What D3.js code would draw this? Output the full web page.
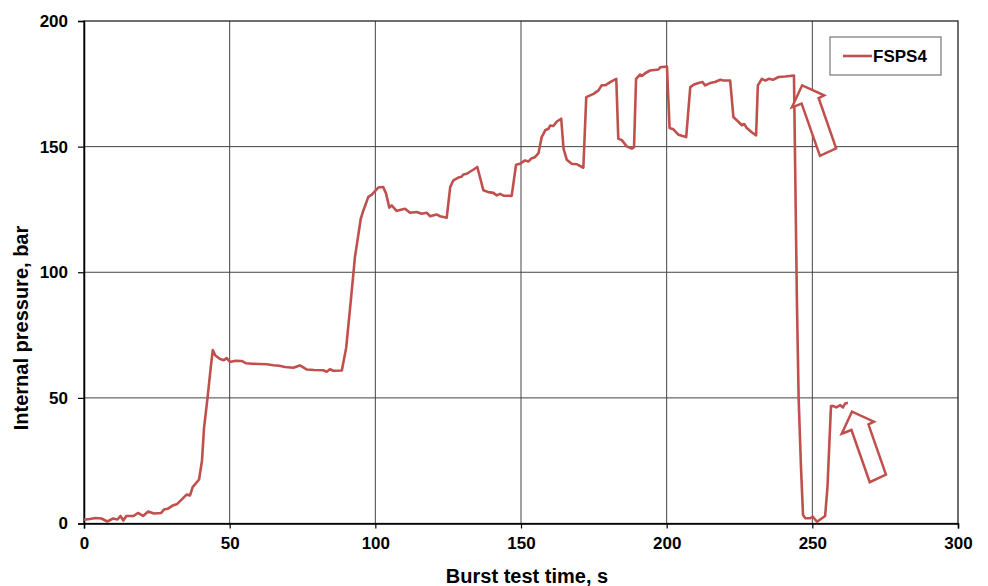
<html>
<head>
<script src="https://cdn.jsdelivr.net/npm/d3@7"></script>
<style>
  body { margin: 0; background: #fff; }
  text { font-family: "Liberation Sans", Arial, sans-serif; font-weight: bold; fill: #000; }
</style>
</head>
<body>
<svg width="988" height="586"></svg>
<script>
// burst test record, FSPS4
var time = [0, 2, 4, 6, 8, 10, 11.5, 12.5, 13.5, 14.5, 17, 18.5, 20.3, 22, 24, 26.5, 27.5, 29, 30.5, 32,
  33.5, 35.2, 36.4, 37.3, 39.5, 40.5, 41.2, 42.4, 43.5, 44.2, 45, 46.7, 48, 49, 50.1, 52, 54.1, 55.5, 57.6, 60,
  62.7, 65, 67, 69, 71.8, 74.1, 76.4, 79, 82.1, 83.3, 84.4, 85.6, 88.5, 90, 91.6, 93, 95, 95.9, 97.6, 98.8,
  101, 102.7, 103.7, 104.8, 105.6, 107.3, 108.4, 110.2, 111.9, 114.2, 115.9, 117.6, 118.8, 121, 122.2, 124.5, 125.7, 126.8, 128.5, 129.6,
  130.2, 131.4, 133.6, 135, 137.1, 138.8, 140.5, 141.7, 142.8, 144, 146.8, 148.3, 149.7, 151.4, 152.6, 153.7, 154.8, 156, 157.1, 158.3,
  159.4, 160, 161.1, 162.3, 163.8, 164.6, 165.7, 167.4, 169.1, 171.4, 172.4, 174.9, 176.6, 177.7, 178.9, 180.6, 182.7, 183.4, 184.6, 186.3,
  188, 188.8, 189.5, 190.9, 191.5, 192.6, 194.3, 197.2, 197.8, 200.1, 201, 202.3, 204.1, 205.2, 206.7, 208.1, 209.2, 210.9, 212.3, 213.2,
  214.9, 216.6, 218.4, 219.5, 221.8, 222.9, 224.7, 225.8, 226.6, 227.5, 229.2, 230.7, 231.3, 232.7, 233.9, 235, 236.5, 238.4, 240.7, 243.7,
  244.7, 245.3, 246.1, 246.8, 247.6, 249.3, 250.2, 251.6, 253.3, 254.4, 255.2, 256.4, 257.3, 258.2, 259.6, 260.5, 261.3, 262.2];
var pressure = [1.5, 1.8, 2.2, 2.0, 0.8, 2.0, 1.6, 3.0, 1.2, 3.0, 3.0, 4.2, 3.0, 4.8, 4.0, 4.2, 5.6, 6.0, 7.2, 7.8,
  9.5, 11.5, 11.2, 14.5, 17.5, 25, 38, 50, 62, 69, 67, 65.5, 65, 65.8, 64.3, 64.8, 64.7, 63.8, 63.6, 63.5,
  63.4, 63, 62.8, 62.3, 62, 62.9, 61.3, 61.1, 61, 60.4, 61.4, 60.8, 60.9, 70, 88.9, 106, 121.3, 124.6, 130, 130.9,
  133.7, 133.9, 131.3, 125.7, 126.6, 124.4, 124.8, 125.3, 123.7, 124, 123.3, 123.7, 122.3, 123, 122.3, 121.7, 133.9, 136.6, 137.7, 138,
  138.9, 139.2, 140.8, 141.9, 132.6, 131.9, 131.6, 130.6, 131.2, 130.5, 130.4, 142.8, 143.2, 144.5, 144.1, 145.4, 145.8, 147.4, 153.8, 156.5,
  157.1, 158.4, 158.2, 160, 161.1, 149.2, 144.8, 143.2, 143, 141.6, 169.7, 171, 172.4, 174.4, 174.4, 175.7, 177, 153.2, 152.6, 150.1,
  149.2, 149.8, 177, 178.7, 178.1, 179.2, 180.3, 180.7, 181.6, 181.9, 157.4, 156.9, 154.7, 154.3, 153.8, 173.7, 174.6, 175.3, 175.7, 174.4,
  175.3, 175.7, 176.6, 176.3, 176.3, 161.8, 159.8, 158.5, 159, 157.4, 155.7, 154.5, 174.4, 177, 176.3, 177, 176.6, 177.7, 177.9, 178.3,
  88.9, 49.8, 22.6, 3.4, 2.1, 2.1, 2.7, 0.7, 2.1, 3, 14.6, 46.7, 46.7, 46.2, 47.1, 46.2, 47.8, 48];

var xTicks = [0, 50, 100, 150, 200, 250, 300];
var yTicks = [0, 50, 100, 150, 200];
var seriesName = "FSPS4";
// annotation arrows: where each arrow tip points (time, pressure)
var arrowTips = [[246.5, 174.4], [263.6, 44.5]];

function draw() {
  var red = "#c0504d";
  var svg = d3.select("svg");
  var pl = 84, pr = 958, pt = 21, pb = 523.5;

  var x = d3.scaleLinear().domain([0, 300]).range([pl, pr]);
  var y = d3.scaleLinear().domain([0, 200]).range([pb, pt]);

  svg.append("rect").attr("width", 988).attr("height", 586).attr("fill", "#fff");

  // grid
  svg.append("g").selectAll("line").data(xTicks.slice(1, -1)).enter().append("line")
    .attr("x1", x).attr("x2", x).attr("y1", pt).attr("y2", pb)
    .attr("stroke", "#444").attr("stroke-width", 1);
  svg.append("g").selectAll("line").data(yTicks.slice(1, -1)).enter().append("line")
    .attr("y1", y).attr("y2", y).attr("x1", pl).attr("x2", pr)
    .attr("stroke", "#444").attr("stroke-width", 1);
  svg.append("rect").attr("x", pl).attr("y", pt).attr("width", pr - pl).attr("height", pb - pt)
    .attr("fill", "none").attr("stroke", "#222").attr("stroke-width", 1.3);

  // axes
  var ax = svg.append("g").attr("transform", "translate(0," + pb + ")")
    .call(d3.axisBottom(x).tickValues(xTicks).tickSize(5).tickPadding(8));
  var ay = svg.append("g").attr("transform", "translate(" + pl + ",0)")
    .call(d3.axisLeft(y).tickValues(yTicks).tickSize(6).tickPadding(10));
  [ax, ay].forEach(function(a) {
    a.select(".domain").attr("stroke", "#000").attr("stroke-width", 1.5);
    a.selectAll(".tick line").attr("stroke", "#000").attr("stroke-width", 1.2);
    a.selectAll("text").attr("font-size", 17).attr("font-family", "Liberation Sans, Arial, sans-serif")
      .attr("font-weight", "bold").attr("fill", "#000");
  });

  // titles
  svg.append("text").attr("x", 527).attr("y", 583).attr("text-anchor", "middle").attr("font-size", 20)
    .text("Burst test time, s");
  svg.append("text").attr("transform", "translate(28,328) rotate(-90)").attr("text-anchor", "middle").attr("font-size", 20)
    .text("Internal pressure, bar");

  // series
  var pts = time.map(function(t, i) { return [t, pressure[i]]; });
  svg.append("path").datum(pts)
    .attr("d", d3.line().x(function(d) { return x(d[0]); }).y(function(d) { return y(d[1]); }))
    .attr("fill", "none").attr("stroke", red).attr("stroke-width", 2.6).attr("stroke-linejoin", "round");

  // block arrows
  var arrowShape = [[0, 0], [22, 10], [16.5, 12.7], [34, 63], [17.8, 70.5], [-0.5, 18.3], [-10.2, 22]];
  svg.append("g").selectAll("polygon").data(arrowTips).enter().append("polygon")
    .attr("points", function(d) {
      var px = x(d[0]), py = y(d[1]);
      return arrowShape.map(function(s) { return (px + s[0]) + "," + (py + s[1]); }).join(" ");
    })
    .attr("fill", "#fff").attr("stroke", red).attr("stroke-width", 2.5).attr("stroke-linejoin", "miter");

  // legend
  var lg = svg.append("g");
  lg.append("rect").attr("x", 830).attr("y", 37).attr("width", 111).attr("height", 38)
    .attr("fill", "#fff").attr("stroke", "#777").attr("stroke-width", 1.2);
  lg.append("line").attr("x1", 843).attr("x2", 872).attr("y1", 56).attr("y2", 56)
    .attr("stroke", red).attr("stroke-width", 2.6);
  lg.append("text").attr("x", 873).attr("y", 62).attr("font-size", 17).text(seriesName);
}
draw();
</script>
</body>
</html>
